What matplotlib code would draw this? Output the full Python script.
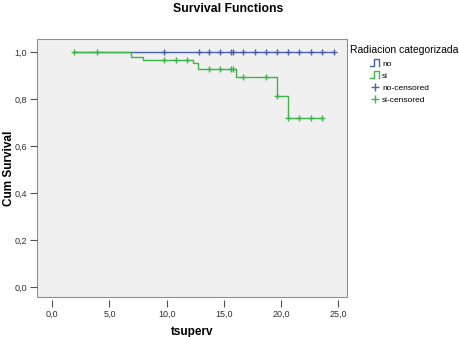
import numpy as np
import matplotlib
matplotlib.use("Agg")
import matplotlib.pyplot as plt
from matplotlib.lines import Line2D
from matplotlib.patches import Rectangle
from matplotlib.legend_handler import HandlerBase

plt.rcParams['font.family'] = ['Liberation Sans', 'DejaVu Sans']

# survival data
start_time = 1.9
no_end = 24.6
no_censor_t = [9.8, 12.8, 13.7, 14.7, 15.6, 15.8, 16.7, 17.7, 18.7, 19.6,
               20.6, 21.6, 22.6, 23.6, 24.6]

si_event_t = [6.9, 7.9, 12.3, 12.7, 16.1, 19.6, 20.6]
si_surv = [0.982, 0.968, 0.954, 0.930, 0.897, 0.814, 0.719]
si_end = 23.6
si_censor_t = [1.9, 3.9, 9.8, 10.8, 11.8, 13.7, 14.7, 15.6, 15.8, 16.7,
               18.7, 19.6, 20.6, 21.6, 22.6, 23.6]

xticks = [0, 5, 10, 15, 20, 25]
yticks = [0, 0.2, 0.4, 0.6, 0.8, 1.0]

blue = '#4a5fb0'
green = '#3db54a'


def surv_at(t):
    i = np.searchsorted(si_event_t, t, side='right')
    return 1.0 if i == 0 else si_surv[i - 1]


class HandlerStep(HandlerBase):
    def create_artists(self, legend, orig, xd, yd, w, h, fs, trans):
        x0, y0 = -xd, -yd
        ln = Line2D([x0, x0 + 0.45 * w, x0 + 0.45 * w, x0 + w, x0 + w],
                    [y0, y0, y0 + 1.1 * h, y0 + 1.1 * h, y0],
                    color=orig.get_color(), lw=1.0)
        ln.set_transform(trans)
        return [ln]


fig = plt.figure(figsize=(4.6, 3.37), dpi=100)
ax = fig.add_axes([36.7 / 460, 1 - 297.3 / 337, (347 - 36.7) / 460, (297.3 - 39.3) / 337])
ax.set_facecolor('#f0f0f0')

ax.step([start_time, no_end], [1.0, 1.0], where='post', color=blue, lw=1.0)
ax.plot(no_censor_t, [1.0] * len(no_censor_t), '+', color=blue, ms=4.5, mew=1.0)

xs = [start_time] + si_event_t + [si_end]
ys = [1.0] + si_surv + [si_surv[-1]]
ax.step(xs, ys, where='post', color=green, lw=1.0)
ax.plot(si_censor_t, [surv_at(t) for t in si_censor_t], '+', color=green, ms=4.5, mew=1.0)

ax.set_xlim(-1.36, 25.76)
ax.set_ylim(-0.044, 1.056)
ax.set_xticks(xticks)
ax.set_xticklabels([f'{v:.1f}'.replace('.', ',') for v in xticks])
ax.set_yticks(yticks)
ax.set_yticklabels([f'{v:.1f}'.replace('.', ',') for v in yticks])
ax.tick_params(labelsize=6.5, length=5, width=0.8, color='#505050',
               labelcolor='#303030', pad=2)

for s in ax.spines.values():
    s.set_visible(False)
ax.spines['bottom'].set_position(('outward', 2))
ax.add_patch(Rectangle((0, 0), 1, 1, transform=ax.transAxes, fill=False,
                       ec='#909090', lw=0.8, clip_on=False))

ax.set_xlabel('tsuperv', fontsize=8.5, fontweight='bold', labelpad=5)
fig.text(9 / 460, 1 - 168 / 337, 'Cum Survival', rotation=90, ha='center',
         va='center', fontsize=8.5, fontweight='bold')
fig.text(228 / 460, 1 - 9 / 337, 'Survival Functions', ha='center', va='center',
         fontsize=8.8, fontweight='bold')

fig.text(350 / 460, 1 - 50 / 337, 'Radiacion categorizada', ha='left',
         va='center', fontsize=7.5)
handles = [Line2D([], [], color=blue), Line2D([], [], color=green),
           Line2D([], [], ls='', marker='+', color=blue, ms=6, mew=1.0),
           Line2D([], [], ls='', marker='+', color=green, ms=6, mew=1.0)]
labels = ['no', 'si', 'no-censored', 'si-censored']
leg = fig.legend(handles, labels, loc='upper left',
                 bbox_to_anchor=(370 / 460, 1 - 60 / 337),
                 frameon=False, fontsize=6, borderpad=0, borderaxespad=0,
                 handlelength=1.1, handletextpad=0.35, labelspacing=0.5,
                 handler_map={handles[0]: HandlerStep(), handles[1]: HandlerStep()})

fig.savefig('out.png', dpi=100)
